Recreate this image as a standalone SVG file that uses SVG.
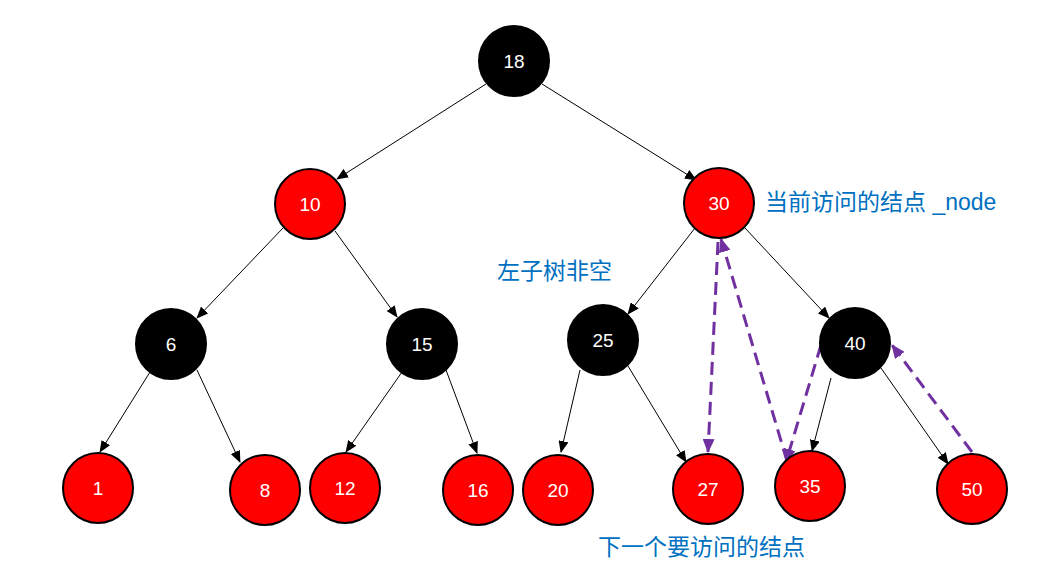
<svg xmlns="http://www.w3.org/2000/svg" width="1053" height="577" viewBox="0 0 1053 577">
<style>
.red{fill:#FF0000;stroke:#000;stroke-width:2}
.blk{fill:#000;stroke:#000;stroke-width:2}
.num{fill:#fff;font-family:"Liberation Sans",Arial,sans-serif;font-size:19px;text-anchor:middle;dominant-baseline:central}
.edge{stroke:#000;stroke-width:1;fill:none;marker-end:url(#ah)}
.path{stroke:#7030A0;stroke-width:3;fill:none;stroke-dasharray:13 7;marker-end:url(#ph)}
.lbl{fill:#0070C0;font-family:"Liberation Sans","Noto Sans CJK SC",sans-serif;font-size:23px}
</style>
<defs>
<marker id="ah" markerUnits="userSpaceOnUse" markerWidth="12" markerHeight="10" refX="11" refY="5" orient="auto"><path d="M0,0 L12,5 L0,10 Z" fill="#000"/></marker>
<marker id="ph" markerUnits="userSpaceOnUse" markerWidth="14" markerHeight="12" refX="13" refY="6" orient="auto"><path d="M0,0 L14,6 L0,12 Z" fill="#7030A0"/></marker>
</defs>
<rect width="1053" height="577" fill="#fff"/>
<g id="connectors">
<line class="edge" x1="486" y1="84" x2="337" y2="179"/>
<line class="edge" x1="542" y1="84" x2="696" y2="180"/>
<line class="edge" x1="283" y1="228" x2="197" y2="318"/>
<line class="edge" x1="335" y1="231" x2="397" y2="317"/>
<line class="edge" x1="695" y1="228" x2="628" y2="314"/>
<line class="edge" x1="745" y1="228" x2="829" y2="318"/>
<line class="edge" x1="150" y1="372" x2="100" y2="452"/>
<line class="edge" x1="197" y1="370" x2="240" y2="462"/>
<line class="edge" x1="402" y1="372" x2="346" y2="452"/>
<line class="edge" x1="446" y1="370" x2="477" y2="453"/>
<line class="edge" x1="580" y1="370" x2="561" y2="452"/>
<line class="edge" x1="628" y1="366" x2="686" y2="462"/>
<line class="edge" x1="831" y1="378" x2="812" y2="451"/>
<line class="edge" x1="881" y1="368" x2="948" y2="464"/>
<line class="path" x1="718" y1="242" x2="708" y2="452"/>
<line class="path" x1="787" y1="461" x2="721" y2="239"/>
<line class="path" x1="821" y1="345" x2="786" y2="462"/>
<line class="path" x1="972" y1="452" x2="892" y2="345"/>
</g>
<g id="n18"><circle class="blk" cx="514" cy="61" r="35"/><text class="num" x="514" y="61">18</text></g>
<g id="n10"><circle class="red" cx="310" cy="204" r="35"/><text class="num" x="310" y="204">10</text></g>
<g id="n30"><circle class="red" cx="719" cy="203" r="35"/><text class="num" x="719" y="203">30</text></g>
<g id="n6"><circle class="blk" cx="171" cy="344" r="35"/><text class="num" x="171" y="344">6</text></g>
<g id="n15"><circle class="blk" cx="422" cy="344" r="35"/><text class="num" x="422" y="344">15</text></g>
<g id="n25"><circle class="blk" cx="603" cy="340" r="35"/><text class="num" x="603" y="340">25</text></g>
<g id="n40"><circle class="blk" cx="855" cy="343" r="35"/><text class="num" x="855" y="343">40</text></g>
<g id="n1"><circle class="red" cx="98" cy="488" r="35"/><text class="num" x="98" y="488">1</text></g>
<g id="n8"><circle class="red" cx="265" cy="490" r="35"/><text class="num" x="265" y="490">8</text></g>
<g id="n12"><circle class="red" cx="345" cy="488" r="35"/><text class="num" x="345" y="488">12</text></g>
<g id="n16"><circle class="red" cx="478" cy="490" r="35"/><text class="num" x="478" y="490">16</text></g>
<g id="n20"><circle class="red" cx="558" cy="490" r="35"/><text class="num" x="558" y="490">20</text></g>
<g id="n27"><circle class="red" cx="708" cy="489" r="35"/><text class="num" x="708" y="489">27</text></g>
<g id="n35"><circle class="red" cx="810" cy="486" r="35"/><text class="num" x="810" y="486">35</text></g>
<g id="n50"><circle class="red" cx="972" cy="489" r="35"/><text class="num" x="972" y="489">50</text></g>
<g id="labels">
<text class="lbl" x="765" y="210">当前访问的结点 _node</text>
<text class="lbl" x="497" y="279">左子树非空</text>
<text class="lbl" x="598" y="555">下一个要访问的结点</text>
</g>
</svg>
